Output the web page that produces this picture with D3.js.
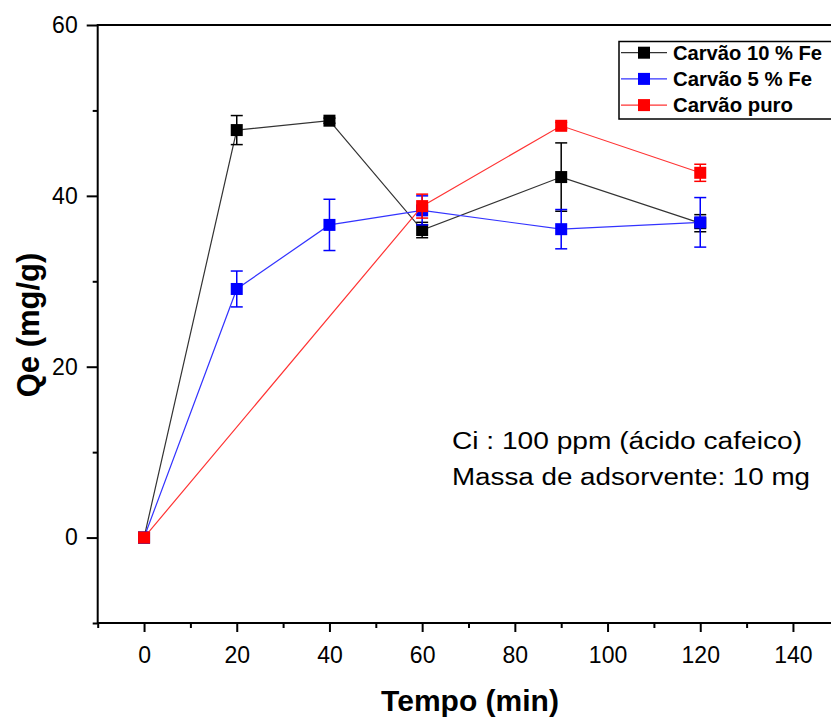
<!DOCTYPE html>
<html>
<head>
<meta charset="utf-8">
<script src="https://cdn.jsdelivr.net/npm/d3@7"></script>
<style>
  body { margin: 0; background: #fff; }
  svg { display: block; font-family: "Liberation Sans", Arial, sans-serif; }
</style>
</head>
<body>
<svg id="chart" width="831" height="718"></svg>
<script>
// Tempo (min) vs Qe (mg/g)
const xTicks = [0, 20, 40, 60, 80, 100, 120, 140];
const xMinor = [-10, 10, 30, 50, 70, 90, 110, 130, 150];
const yTicks = [0, 20, 40, 60];
const yMinor = [-10, 10, 30, 50];

const fe10 = [
  { t: 0, q: 0, e: 0 },
  { t: 20, q: 47.7, e: 1.7 },
  { t: 40, q: 48.8, e: 0.3 },
  { t: 60, q: 36.0, e: 0.9 },
  { t: 90, q: 42.2, e: 4.0 },
  { t: 120, q: 36.8, e: 1.0 }
];
const fe5 = [
  { t: 0, q: 0, e: 0 },
  { t: 20, q: 29.1, e: 2.1 },
  { t: 40, q: 36.6, e: 3.0 },
  { t: 60, q: 38.3, e: 1.7 },
  { t: 90, q: 36.1, e: 2.3 },
  { t: 120, q: 36.9, e: 2.9 }
];
const puro = [
  { t: 0, q: 0, e: 0 },
  { t: 60, q: 38.8, e: 1.4 },
  { t: 90, q: 48.2, e: 0.4 },
  { t: 120, q: 42.7, e: 1.0 }
];

const series = [
  { name: 'Carvão 10 % Fe', color: '#000000', line: '#333333', values: fe10 },
  { name: 'Carvão 5 % Fe', color: '#0000ff', line: '#3333ff', values: fe5 },
  { name: 'Carvão puro', color: '#ff0000', line: '#ff3333', values: puro }
];

const notes = ['Ci : 100 ppm (ácido cafeico)', 'Massa de adsorvente: 10 mg'];

const svg = d3.select('#chart');
const x = d3.scaleLinear().domain([-10, 150]).range([97.7, 839.3]);
const y = d3.scaleLinear().domain([-10, 60]).range([623, 25]);

// axes
const xAxisG = svg.append('g')
  .attr('transform', `translate(0,${y(-10)})`)
  .call(d3.axisBottom(x).tickValues(xTicks).tickSize(9).tickPadding(15).tickFormat(d3.format('d')));
const xMinorG = svg.append('g')
  .attr('transform', `translate(0,${y(-10)})`)
  .call(d3.axisBottom(x).tickValues(xMinor).tickSize(5).tickFormat(''));

const yAxisG = svg.append('g')
  .attr('transform', `translate(${x(-10)},0)`)
  .call(d3.axisLeft(y).tickValues(yTicks).tickSize(11).tickPadding(9).tickFormat(d3.format('d')));
const yMinorG = svg.append('g')
  .attr('transform', `translate(${x(-10)},0)`)
  .call(d3.axisLeft(y).tickValues(yMinor).tickSize(5).tickFormat(''));

[xAxisG, xMinorG, yAxisG, yMinorG].forEach(g => {
  g.select('.domain').remove();
  g.selectAll('.tick line').attr('stroke', '#000').attr('stroke-width', 2);
  g.selectAll('.tick text').attr('fill', '#000').style('font-size', '23px');
});

// frame lines (bottom, left, top)
svg.append('line')
  .attr('x1', x(-10)).attr('x2', x(150)).attr('y1', y(-10)).attr('y2', y(-10))
  .attr('stroke', '#000').attr('stroke-width', 2);
svg.append('line')
  .attr('x1', x(-10)).attr('x2', x(-10)).attr('y1', y(-10) + 1).attr('y2', y(60) - 1)
  .attr('stroke', '#000').attr('stroke-width', 2);
svg.append('line')
  .attr('x1', x(-10)).attr('x2', x(150)).attr('y1', y(60)).attr('y2', y(60))
  .attr('stroke', '#000').attr('stroke-width', 2);

// axis titles
svg.append('text')
  .attr('x', 470).attr('y', 711)
  .attr('text-anchor', 'middle')
  .style('font-size', '30px').style('font-weight', 'bold')
  .text('Tempo (min)');
svg.append('text')
  .attr('transform', 'translate(39,325) rotate(-90)')
  .attr('text-anchor', 'middle')
  .style('font-size', '31px').style('font-weight', 'bold')
  .text('Qe (mg/g)');

// series
const lineGen = d3.line().x(d => x(d.t)).y(d => y(d.q));
const S = 12;

series.forEach(s => {
  const g = svg.append('g').attr('class', 'series');
  g.append('path')
    .datum(s.values)
    .attr('d', lineGen)
    .attr('fill', 'none')
    .attr('stroke', s.line)
    .attr('stroke-width', 1.2);

  const eb = g.selectAll('g.err')
    .data(s.values.filter(d => d.e > 0))
    .join('g')
    .attr('class', 'err')
    .attr('stroke', s.color)
    .attr('stroke-width', 1.5);
  eb.append('line')
    .attr('x1', d => x(d.t)).attr('x2', d => x(d.t))
    .attr('y1', d => y(d.q + d.e)).attr('y2', d => y(d.q - d.e));
  eb.append('line')
    .attr('x1', d => x(d.t) - 6).attr('x2', d => x(d.t) + 6)
    .attr('y1', d => y(d.q + d.e)).attr('y2', d => y(d.q + d.e));
  eb.append('line')
    .attr('x1', d => x(d.t) - 6).attr('x2', d => x(d.t) + 6)
    .attr('y1', d => y(d.q - d.e)).attr('y2', d => y(d.q - d.e));

  g.selectAll('rect.pt')
    .data(s.values)
    .join('rect')
    .attr('class', 'pt')
    .attr('x', d => x(d.t) - S / 2)
    .attr('y', d => y(d.q) - S / 2)
    .attr('width', S).attr('height', S)
    .attr('fill', s.color);
});

// legend
const legendWidths = [149, 139, 120];
const leg = svg.append('g');
leg.append('rect')
  .attr('x', 619).attr('y', 41.5).attr('width', 240).attr('height', 77.5)
  .attr('fill', '#fff').attr('stroke', '#000').attr('stroke-width', 1.5);
const legRow = leg.selectAll('g.row')
  .data(series)
  .join('g')
  .attr('class', 'row')
  .attr('transform', (d, i) => `translate(0,${52.7 + i * 26.2})`);
legRow.append('line')
  .attr('x1', 621).attr('x2', 667)
  .attr('stroke', d => d.line).attr('stroke-width', 1.2);
legRow.append('rect')
  .attr('x', 644 - S / 2).attr('y', -S / 2).attr('width', S).attr('height', S)
  .attr('fill', d => d.color);
legRow.append('text')
  .attr('x', 673).attr('dy', '0.35em')
  .attr('textLength', (d, i) => legendWidths[i])
  .attr('lengthAdjust', 'spacingAndGlyphs')
  .style('font-size', '20px').style('font-weight', 'bold')
  .text(d => d.name);

// annotation
const noteWidths = [350, 358];
svg.selectAll('text.note')
  .data(notes)
  .join('text')
  .attr('class', 'note')
  .attr('x', 452)
  .attr('y', (d, i) => 449 + i * 36)
  .attr('textLength', (d, i) => noteWidths[i])
  .attr('lengthAdjust', 'spacingAndGlyphs')
  .style('font-size', '23px')
  .text(d => d);
</script>
</body>
</html>
